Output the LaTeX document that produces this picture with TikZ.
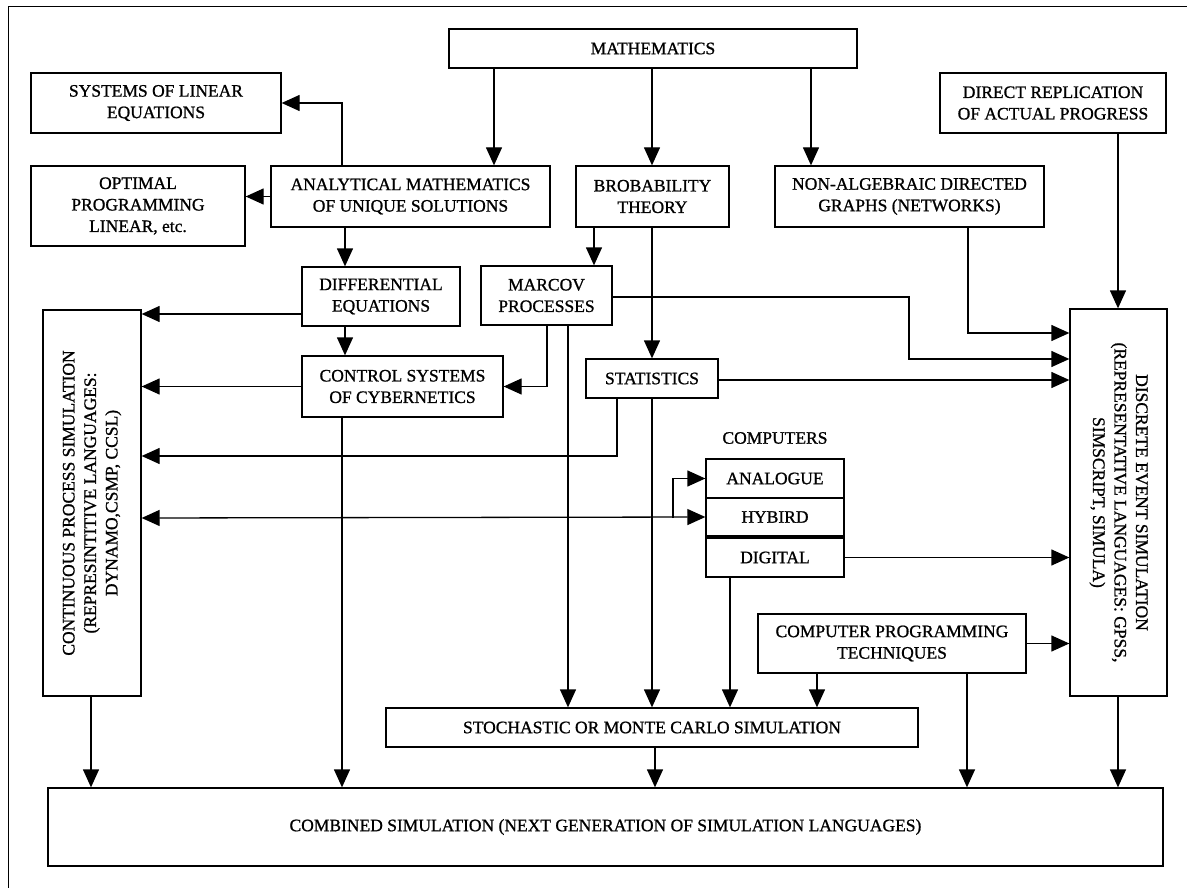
\documentclass[tikz,border=0pt]{standalone}
\usepackage{fontspec}
\setmainfont[FakeBold=1]{Liberation Serif}
\usetikzlibrary{arrows.meta}
\begin{document}
\begin{tikzpicture}[x=1pt,y=-1pt,
  line width=1.3pt,
  every node/.style={font=\fontsize{17.5}{21.5}\selectfont},
  box/.style={draw, align=center, inner sep=1pt, anchor=center},
  arr/.style={-{Triangle[length=18pt,width=16pt]}},
  dbl/.style={{Triangle[length=18pt,width=16pt]}-{Triangle[length=18pt,width=16pt]}}]
\useasboundingbox (0,0) rectangle (1187,888);
% outer frame (continues past the page edge)
\draw[line width=1pt] (1187,7) -- (8,7) -- (8,888);

% boxes
\node[box, minimum width=408pt, minimum height=39pt] (math) at (653,48.5) {MATHEMATICS};
\node[box, minimum width=250pt, minimum height=60pt] (sys) at (156,103) {SYSTEMS OF LINEAR\\EQUATIONS};
\node[box, minimum width=214pt, minimum height=80pt] (opt) at (138,206) {OPTIMAL\\PROGRAMMING\\LINEAR, etc.};
\node[box, minimum width=279pt, minimum height=61pt] (analyt) at (410.5,196.5) {ANALYTICAL MATHEMATICS\\OF UNIQUE SOLUTIONS};
\node[box, minimum width=153pt, minimum height=61pt] (brob) at (652.5,196.5) {BROBABILITY\\THEORY};
\node[box, minimum width=269pt, minimum height=61pt] (nonalg) at (909.5,196.5) {NON-ALGEBRAIC DIRECTED\\GRAPHS (NETWORKS)};
\node[box, minimum width=226pt, minimum height=60pt] (direct) at (1053,103) {DIRECT REPLICATION\\OF ACTUAL PROGRESS};
\node[box, minimum width=158pt, minimum height=59pt] (diff) at (381,296.5) {DIFFERENTIAL\\EQUATIONS};
\node[box, minimum width=131pt, minimum height=59pt] (marcov) at (546.5,295.5) {MARCOV\\PROCESSES};
\node[box, minimum width=201pt, minimum height=61pt] (control) at (402.5,386.5) {CONTROL SYSTEMS\\OF CYBERNETICS};
\node[box, minimum width=132pt, minimum height=39pt] (stats) at (652,378.5) {STATISTICS};
% rotated boxes: for cont the page-right side is .south and the bottom is .west;
% for disc the page-left side is .south, the top is .west and the bottom is .east
\node[box, rotate=90, minimum width=386pt, minimum height=98pt] (cont) at (92,503)
  {CONTINUOUS PROCESS SIMULATION\\(REPRESINTITIVE LANGUAGES:\\DYNAMO,CSMP, CCSL)};
\node[box, rotate=-90, minimum width=387pt, minimum height=97pt] (disc) at (1118.5,502.5)
  {DISCRETE EVENT SIMULATION\\(REPRESENTATIVE LANGUAGES: GPSS,\\SIMSCRIPT, SIMULA)};
\node (comp) at (775,438) {COMPUTERS};
\node[box, minimum width=138pt, minimum height=39pt] (analog) at (775,478.5) {ANALOGUE};
\node[box, minimum width=138pt, minimum height=38pt] (hybird) at (775,517) {HYBIRD};
\node[box, minimum width=138pt, minimum height=39pt] (digital) at (775,557.5) {DIGITAL};
\node[box, minimum width=268pt, minimum height=59pt] (compprog) at (892,643.5) {COMPUTER PROGRAMMING\\TECHNIQUES};
\node[box, minimum width=532pt, minimum height=39pt] (stoch) at (652,727.5) {STOCHASTIC OR MONTE CARLO SIMULATION};
\node[box, minimum width=1115pt, minimum height=78pt] (comb) at (605.5,827) {COMBINED SIMULATION (NEXT GENERATION OF SIMULATION LANGUAGES)};

% connectors from the top row
\draw[arr] (494,0 |- math.south) -- (494,0 |- analyt.north);
\draw[arr] (652,0 |- math.south) -- (652,0 |- brob.north);
\draw[arr] (811,0 |- math.south) -- (811,0 |- nonalg.north);
\draw[arr] (342,0 |- analyt.north) |- (sys.east);
\draw[arr] (analyt.west) -- (opt.east |- analyt.west);
\draw[arr] (345,0 |- analyt.south) -- (345,0 |- diff.north);
\draw[arr] (594,0 |- brob.south) -- (594,0 |- marcov.north);
\draw[arr] (652,0 |- brob.south) -- (652,0 |- stats.north);
\draw[arr] (1118,0 |- direct.south) -- (1118,0 |- disc.west);

% into continuous process simulation
\draw[arr] (diff.west |- 0,314) -- (cont.south |- 0,314);
\draw[arr] (345,0 |- diff.south) -- (345,0 |- control.north);
\draw[arr] (control.west) -- (cont.south |- control.west);
\draw[arr] (547,0 |- marcov.south) |- (control.east);
\draw[arr] (617,0 |- stats.south) |- (cont.south |- 0,456);
\draw[dbl] (cont.south |- 0,518) -- (hybird.west);
\draw[arr] (673,518) |- (analog.west);

% into discrete event simulation
\draw[arr] (marcov.east |- 0,297) -| (909,359) -- (disc.south |- 0,359);
\draw[arr] (968,0 |- nonalg.south) |- (disc.south |- 0,333);
\draw[arr] (stats.east |- 0,380) -- (disc.south |- 0,380);
\draw[arr] (digital.east) -- (disc.south |- digital.east);
\draw[arr] (compprog.east) -- (disc.south |- compprog.east);

% into stochastic simulation
\draw[arr] (568,0 |- marcov.south) -- (568,0 |- stoch.north);
\draw[arr] (652,0 |- stats.south) -- (652,0 |- stoch.north);
\draw[arr] (730,0 |- digital.south) -- (730,0 |- stoch.north);
\draw[arr] (817,0 |- compprog.south) -- (817,0 |- stoch.north);

% into combined simulation
\draw[arr] (91,0 |- cont.west) -- (91,0 |- comb.north);
\draw[arr] (342,0 |- control.south) -- (342,0 |- comb.north);
\draw[arr] (655,0 |- stoch.south) -- (655,0 |- comb.north);
\draw[arr] (967,0 |- compprog.south) -- (967,0 |- comb.north);
\draw[arr] (1118,0 |- disc.east) -- (1118,0 |- comb.north);
\end{tikzpicture}
\end{document}
